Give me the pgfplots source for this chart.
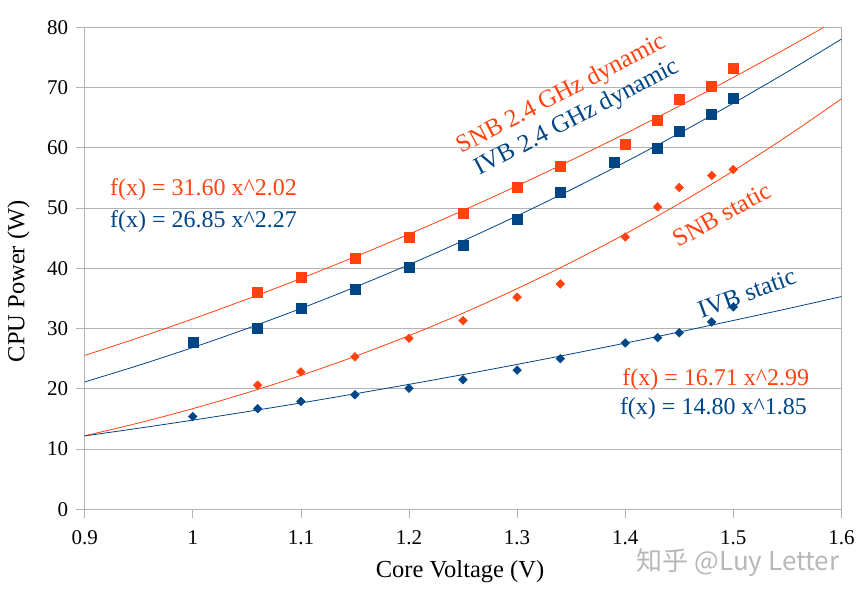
\documentclass[border=0pt]{standalone}
\usepackage{pgfplots}
\pgfplotsset{compat=1.18}
\usepackage{fontspec}
\setmainfont{Liberation Serif}
\newfontfamily\cjk{Noto Sans CJK SC}
\definecolor{lorange}{HTML}{FF420E}
\definecolor{lblue}{HTML}{004586}
\definecolor{lgrid}{HTML}{B3B3B3}
\begin{document}
\begin{tikzpicture}[x=1pt,y=1pt]
\begin{axis}[
  at={(84.7pt,87.7pt)}, anchor=origin,
  scale only axis, width=756.7pt, height=482pt,
  xmin=0.9, xmax=1.6, ymin=0, ymax=80,
  xtick={0.9,1,1.1,1.2,1.3,1.4,1.5,1.6},
  xticklabels={0.9,1,1.1,1.2,1.3,1.4,1.5,1.6},
  ytick={0,10,...,80},
  ymajorgrids, grid style={lgrid, line width=0.8pt},
  axis line style={lgrid, line width=0.8pt},
  tick style={lgrid, line width=0.8pt},
  tick align=outside, major tick length=9pt,
  xtick pos=bottom, ytick pos=left,
  /pgf/number format/assume math mode=true,
  ticklabel style={font=\fontsize{21}{24}\selectfont, text=black},
  xticklabel style={yshift=-9pt},
  yticklabel style={xshift=-4pt},
  xlabel={Core Voltage (V)}, ylabel={CPU Power (W)},
  label style={font=\fontsize{24.5}{28}\selectfont},
  xlabel style={at={(axis description cs:0.496,-0.130)}, anchor=center},
  ylabel style={at={(axis description cs:-0.0875,0.473)}, anchor=center},
  clip=true,
]
% fitted curves
\addplot[lorange, line width=0.8pt, smooth] coordinates {
(0.90,25.54)(0.95,28.49)(1.00,31.60)(1.05,34.87)(1.10,38.31)(1.15,41.91)(1.20,45.67)(1.25,49.60)(1.30,53.68)(1.35,57.94)(1.40,62.35)(1.45,66.93)(1.50,71.68)(1.55,76.59)(1.60,81.66)};
\addplot[lblue, line width=0.8pt, smooth] coordinates {
(0.90,21.14)(0.95,23.90)(1.00,26.85)(1.05,29.99)(1.10,33.33)(1.15,36.87)(1.20,40.61)(1.25,44.56)(1.30,48.71)(1.35,53.06)(1.40,57.63)(1.45,62.41)(1.50,67.40)(1.55,72.61)(1.60,78.04)};
\addplot[lorange, line width=0.8pt, smooth] coordinates {
(0.90,12.20)(0.95,14.33)(1.00,16.71)(1.05,19.33)(1.10,22.22)(1.15,25.38)(1.20,28.82)(1.25,32.56)(1.30,36.62)(1.35,40.99)(1.40,45.70)(1.45,50.75)(1.50,56.17)(1.55,61.95)(1.60,68.12)};
\addplot[lblue, line width=0.8pt, smooth] coordinates {
(0.90,12.18)(0.95,13.46)(1.00,14.80)(1.05,16.20)(1.10,17.65)(1.15,19.17)(1.20,20.74)(1.25,22.36)(1.30,24.05)(1.35,25.79)(1.40,27.58)(1.45,29.43)(1.50,31.34)(1.55,33.29)(1.60,35.31)};
% SNB dynamic
\addplot[only marks, mark=square*, mark size=5pt, color=lorange] coordinates {
(1.06,36.1)(1.10,38.6)(1.15,41.7)(1.20,45.1)(1.25,49.2)(1.30,53.4)(1.34,56.9)(1.40,60.6)(1.43,64.5)(1.45,68.0)(1.48,70.3)(1.50,73.2)};
% IVB dynamic
\addplot[only marks, mark=square*, mark size=5pt, color=lblue] coordinates {
(1.00,27.7)(1.06,30.1)(1.10,33.4)(1.15,36.5)(1.20,40.2)(1.25,43.9)(1.30,48.1)(1.34,52.7)(1.39,57.6)(1.43,59.9)(1.45,62.8)(1.48,65.6)(1.50,68.2)};
% SNB static
\addplot[only marks, mark=square*, mark size=3.1pt, mark options={rotate=45}, color=lorange] coordinates {
(1.06,20.6)(1.10,22.8)(1.15,25.3)(1.20,28.4)(1.25,31.3)(1.30,35.2)(1.34,37.4)(1.40,45.2)(1.43,50.2)(1.45,53.4)(1.48,55.4)(1.50,56.4)};
% IVB static
\addplot[only marks, mark=square*, mark size=3.1pt, mark options={rotate=45}, color=lblue] coordinates {
(1.00,15.4)(1.06,16.7)(1.10,17.9)(1.15,19.0)(1.20,20.1)(1.25,21.5)(1.30,23.1)(1.34,25.0)(1.40,27.6)(1.43,28.5)(1.45,29.3)(1.48,31.1)(1.50,33.6)};
% labels
\node[rotate=27.5, text=lorange, font=\fontsize{25}{28}\selectfont, inner sep=0pt] at (axis cs:1.3415,68.8) {SNB 2.4 GHz dynamic};
\node[rotate=27.5, text=lblue, font=\fontsize{25}{28}\selectfont, inner sep=0pt] at (axis cs:1.3556,64.9) {IVB 2.4 GHz dynamic};
\node[rotate=29, text=lorange, font=\fontsize{25}{28}\selectfont, inner sep=0pt] at (axis cs:1.4896,48.9) {SNB static};
\node[rotate=20, text=lblue, font=\fontsize{25}{28}\selectfont, inner sep=0pt] at (axis cs:1.5126,35.9) {IVB static};
\node[anchor=west, text=lorange, font=\fontsize{24}{26}\selectfont, inner sep=0pt] at (axis cs:0.9234,53.0) {f(x) = 31.60 x\textasciicircum 2.02};
\node[anchor=west, text=lblue, font=\fontsize{24}{26}\selectfont, inner sep=0pt] at (axis cs:0.9234,47.7) {f(x) = 26.85 x\textasciicircum 2.27};
\node[anchor=west, text=lorange, font=\fontsize{24}{26}\selectfont, inner sep=0pt] at (axis cs:1.3972,21.6) {f(x) = 16.71 x\textasciicircum 2.99};
\node[anchor=west, text=lblue, font=\fontsize{24}{26}\selectfont, inner sep=0pt] at (axis cs:1.3950,16.65) {f(x) = 14.80 x\textasciicircum 1.85};
\end{axis}
\node[text=black!28, font=\cjk\fontsize{26}{28}\selectfont, anchor=center] at (738pt,34pt) {知乎 @Luy Letter};
\pgfresetboundingbox
\path (0,0) rectangle (866pt,597pt);
\end{tikzpicture}
\end{document}
